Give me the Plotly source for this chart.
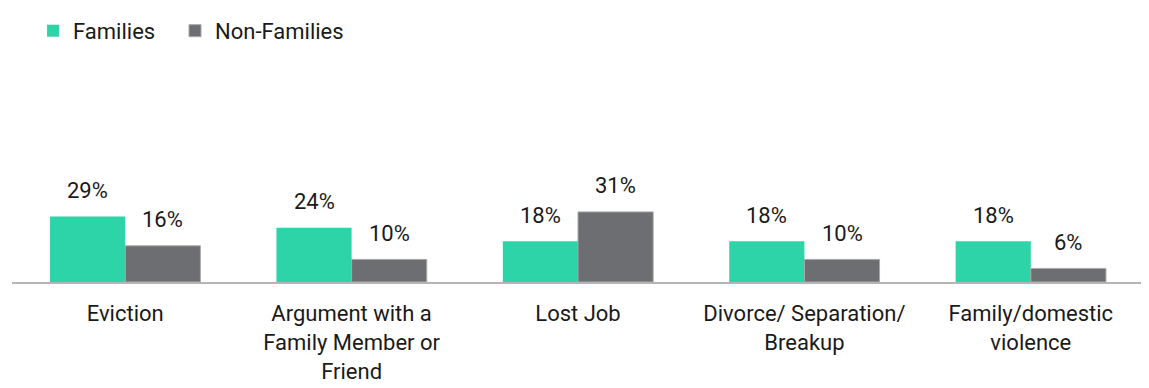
import plotly.graph_objects as go

categories = ["Eviction", "Argument with a<br>Family Member or<br>Friend", "Lost Job",
              "Divorce/ Separation/<br>Breakup", "Family/domestic<br>violence"]
families = [29, 24, 18, 18, 18]
non_families = [16, 10, 31, 10, 6]
series_names = ["Families", "Non-Families"]
colors = ["#2dd4a7", "#6d6e71"]

FONT = "Roboto, Arial, sans-serif"
FS = 22

fig = go.Figure()
fig.add_trace(go.Bar(x=categories, y=families, name=series_names[0], legend="legend",
                     marker=dict(color=colors[0], line=dict(width=0))))
fig.add_trace(go.Bar(x=categories, y=non_families, name=series_names[1], legend="legend2",
                     marker=dict(color=colors[1], line=dict(color="#a8a8a8", width=1))))

bar_half = 37.6
for vals, sh in ((families, -bar_half), (non_families, bar_half)):
    for c, v in zip(categories, vals):
        fig.add_annotation(x=c, y=v, text=f"{v}%", showarrow=False, xshift=sh,
                           yanchor="middle", yshift=26,
                           font=dict(family=FONT, size=FS, color="#1a1a1a"))

leg_common = dict(orientation="h", xanchor="left", y=0.995, yanchor="top",
                  yref="container", font=dict(family=FONT, size=FS, color="#1a1a1a"),
                  itemwidth=30, bgcolor="rgba(0,0,0,0)")

fig.update_layout(
    width=1141, height=380,
    margin=dict(l=4, r=5, t=42, b=104),
    paper_bgcolor="white", plot_bgcolor="white",
    barmode="group", bargap=0.336, bargroupgap=0,
    font=dict(family=FONT, size=FS, color="#1a1a1a"),
    showlegend=True,
    legend=dict(x=0.0186, **leg_common),
    legend2=dict(x=0.144, **leg_common),
    xaxis=dict(showline=True, linecolor="#b5b5b5", linewidth=2, ticks="outside",
               ticklen=11, tickcolor="rgba(0,0,0,0)", showgrid=False,
               tickfont=dict(family=FONT, size=FS, color="#1a1a1a")),
    yaxis=dict(range=[0, 100], visible=False, showgrid=False, zeroline=False),
)

fig.write_html("out.html")
